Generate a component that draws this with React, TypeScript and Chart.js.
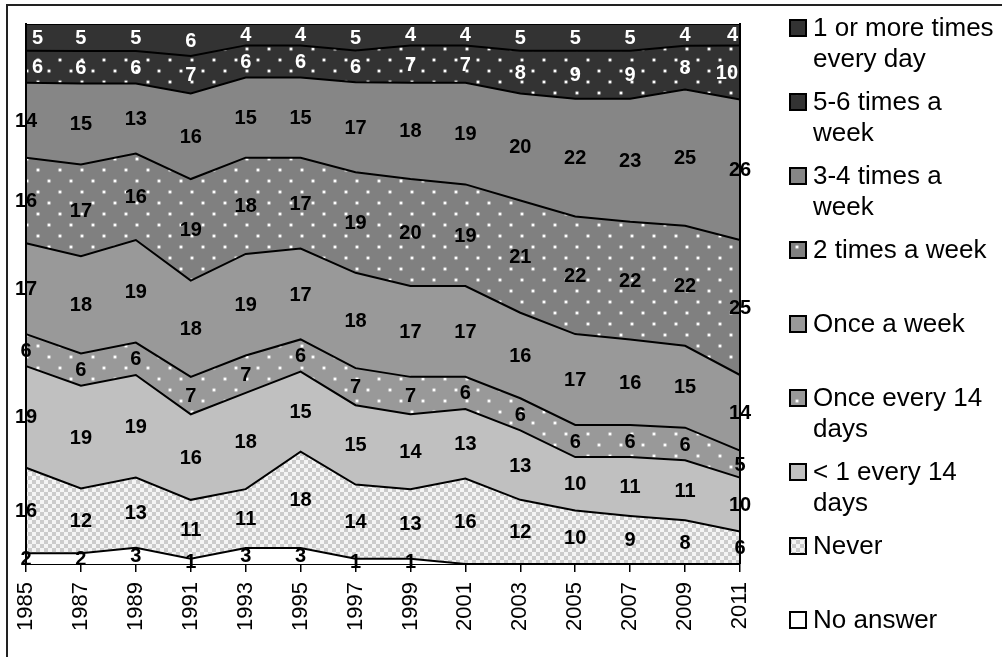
import React, { useEffect, useRef } from "react";
import { Chart, registerables } from "chart.js";

Chart.register(...registerables);

// Survey years
const years = ["1985", "1987", "1989", "1991", "1993", "1995", "1997", "1999", "2001", "2003", "2005", "2007", "2009", "2011"];

// Answer categories, bottom of the stack first
const seriesNames = [
  "No answer",
  "Never",
  "< 1 every 14 days",
  "Once every 14 days",
  "Once a week",
  "2 times a week",
  "3-4 times a week",
  "5-6 times a week",
  "1 or more times every day",
];

// Shares in percent per year
const noAnswer = [2, 2, 3, 1, 3, 3, 1, 1, 0, 0, 0, 0, 0, 0];
const never = [16, 12, 13, 11, 11, 18, 14, 13, 16, 12, 10, 9, 8, 6];
const lessThanBiweekly = [19, 19, 19, 16, 18, 15, 15, 14, 13, 13, 10, 11, 11, 10];
const biweekly = [6, 6, 6, 7, 7, 6, 7, 7, 6, 6, 6, 6, 6, 5];
const weekly = [17, 18, 19, 18, 19, 17, 18, 17, 17, 16, 17, 16, 15, 14];
const twiceWeekly = [16, 17, 16, 19, 18, 17, 19, 20, 19, 21, 22, 22, 22, 25];
const threeFourWeekly = [14, 15, 13, 16, 15, 15, 17, 18, 19, 20, 22, 23, 25, 26];
const fiveSixWeekly = [6, 6, 6, 7, 6, 6, 6, 7, 7, 8, 9, 9, 8, 10];
const daily = [5, 5, 5, 6, 4, 4, 5, 4, 4, 5, 5, 5, 4, 4];

const seriesValues = [noAnswer, never, lessThanBiweekly, biweekly, weekly, twiceWeekly, threeFourWeekly, fiveSixWeekly, daily];

const FONT = '"Liberation Sans", Arial, Helvetica, sans-serif';

// Totals per year, so every column fills 100 %
const totals = years.map((_, j) => seriesValues.reduce((s, arr) => s + arr[j], 0));

type Fill = { kind: "solid"; color: string } | { kind: "dots"; color: string } | { kind: "checker"; a: string; b: string };

const fills: Fill[] = [
  { kind: "solid", color: "#ffffff" },
  { kind: "checker", a: "#f4f4f4", b: "#cbcbcb" },
  { kind: "solid", color: "#c0c0c0" },
  { kind: "dots", color: "#999999" },
  { kind: "solid", color: "#999999" },
  { kind: "dots", color: "#808080" },
  { kind: "solid", color: "#868686" },
  { kind: "dots", color: "#333333" },
  { kind: "solid", color: "#333333" },
];

const labelColors = ["#000", "#000", "#000", "#000", "#000", "#000", "#000", "#fff", "#fff"];

function makeFill(ctx: CanvasRenderingContext2D, f: Fill): string | CanvasPattern {
  if (f.kind === "solid") return f.color;
  const tile = document.createElement("canvas");
  if (f.kind === "dots") {
    tile.width = 22;
    tile.height = 22;
    const g = tile.getContext("2d")!;
    g.fillStyle = f.color;
    g.fillRect(0, 0, 22, 22);
    for (const [x, y] of [[5, 5], [16, 16]]) {
      g.fillStyle = "rgba(255,255,255,0.35)";
      g.beginPath();
      g.arc(x, y, 2.2, 0, Math.PI * 2);
      g.fill();
      g.fillStyle = "#ffffff";
      g.beginPath();
      g.arc(x, y, 1.3, 0, Math.PI * 2);
      g.fill();
    }
  } else {
    tile.width = 8;
    tile.height = 8;
    const g = tile.getContext("2d")!;
    g.fillStyle = f.a;
    g.fillRect(0, 0, 8, 8);
    g.fillStyle = f.b;
    g.fillRect(0, 0, 4, 4);
    g.fillRect(4, 4, 4, 4);
  }
  return ctx.createPattern(tile, "repeat")!;
}

function wrapText(ctx: CanvasRenderingContext2D, text: string, maxWidth: number): string[] {
  const words = text.split(" ");
  const lines: string[] = [];
  let cur = "";
  for (const w of words) {
    const test = cur ? cur + " " + w : w;
    if (cur && ctx.measureText(test).width > maxWidth) {
      lines.push(cur);
      cur = w;
    } else {
      cur = test;
    }
  }
  if (cur) lines.push(cur);
  return lines;
}

// White page and the outer frame
const framePlugin = {
  id: "frame",
  beforeDraw(chart: any) {
    const ctx = chart.ctx as CanvasRenderingContext2D;
    ctx.save();
    ctx.fillStyle = "#ffffff";
    ctx.fillRect(0, 0, chart.width, chart.height);
    ctx.strokeStyle = "#222";
    ctx.lineWidth = 2;
    ctx.beginPath();
    ctx.moveTo(7, chart.height);
    ctx.lineTo(7, 5);
    ctx.lineTo(chart.width, 5);
    ctx.stroke();
    ctx.restore();
  },
};

// Side edges of the plot and the value labels in the middle of each band
const valueLabelPlugin = {
  id: "valueLabels",
  afterDatasetsDraw(chart: any) {
    const ctx = chart.ctx as CanvasRenderingContext2D;
    const area = chart.chartArea;
    ctx.save();
    ctx.strokeStyle = "#000";
    ctx.lineWidth = 2;
    ctx.beginPath();
    ctx.moveTo(area.left, area.top - 1);
    ctx.lineTo(area.left, area.bottom);
    ctx.moveTo(area.right, area.top - 1);
    ctx.lineTo(area.right, area.bottom);
    ctx.stroke();

    ctx.font = `bold 20px ${FONT}`;
    ctx.textAlign = "center";
    ctx.textBaseline = "middle";
    const zero = chart.scales.y.getPixelForValue(0);
    const last = years.length - 1;
    seriesValues.forEach((vals, i) => {
      const meta = chart.getDatasetMeta(i);
      const below = i > 0 ? chart.getDatasetMeta(i - 1) : null;
      const light = labelColors[i] === "#fff";
      vals.forEach((v, j) => {
        if (!v) return;
        const text = String(v);
        const top = meta.data[j].y;
        const bottom = below ? below.data[j].y : zero;
        let x = meta.data[j].x;
        // white labels stay inside the dark bands at the edges
        if (light) {
          const w = ctx.measureText(text).width;
          if (j === 0) x = area.left + 6 + w / 2;
          else if (j === last) x = area.right - 2 - w / 2;
        }
        ctx.fillStyle = labelColors[i];
        ctx.fillText(text, x, (top + bottom) / 2 + 1);
      });
    });
    ctx.restore();
  },
};

// Legend on the right, top series first, long names wrapped
const sideLegendPlugin = {
  id: "sideLegend",
  afterDraw(chart: any) {
    const ctx = chart.ctx as CanvasRenderingContext2D;
    ctx.save();
    ctx.font = `26px ${FONT}`;
    ctx.textAlign = "left";
    ctx.textBaseline = "middle";
    const n = seriesNames.length;
    for (let k = 0; k < n; k++) {
      const i = n - 1 - k;
      const cy = 28 + 74 * k;
      const ds = chart.data.datasets[i];
      ctx.fillStyle = ds.backgroundColor;
      ctx.fillRect(790, cy - 8, 16, 16);
      ctx.strokeStyle = "#000";
      ctx.lineWidth = 2;
      ctx.strokeRect(790, cy - 8, 16, 16);
      ctx.fillStyle = "#000";
      const lines = wrapText(ctx, seriesNames[i], 186);
      lines.forEach((line, m) => ctx.fillText(line, 813, cy + 1 + 31 * m));
    }
    ctx.restore();
  },
};

export default function App() {
  const canvasRef = useRef<HTMLCanvasElement | null>(null);

  useEffect(() => {
    const canvas = canvasRef.current;
    if (!canvas) return;
    const ctx = canvas.getContext("2d")!;

    const datasets = seriesValues.map((vals, i) => ({
      label: seriesNames[i],
      data: vals.map((v, j) => (v / totals[j]) * 100),
      backgroundColor: makeFill(ctx, fills[i]) as any,
      borderColor: "#000",
      borderWidth: 2,
      fill: i === 0 ? "origin" : "-1",
      pointRadius: 0,
      tension: 0,
    }));

    const chart = new Chart(canvas, {
      type: "line",
      data: { labels: years, datasets },
      options: {
        responsive: false,
        animation: false,
        layout: { padding: { left: 26, right: 262, top: 24, bottom: 0 } },
        plugins: {
          legend: { display: false },
          tooltip: { enabled: false },
        },
        scales: {
          x: {
            offset: false,
            grid: {
              display: true,
              drawOnChartArea: false,
              drawTicks: true,
              tickLength: 8,
              color: "#000",
              lineWidth: 1.5,
            },
            border: { display: true, color: "#000", width: 2 },
            ticks: {
              autoSkip: false,
              minRotation: 90,
              maxRotation: 90,
              padding: 10,
              color: "#000",
              font: { size: 22, family: FONT },
            },
            afterFit: (scale: any) => {
              scale.height = 93;
            },
          },
          y: {
            display: false,
            stacked: true,
            min: 0,
            max: 100,
          },
        },
      },
      plugins: [framePlugin, valueLabelPlugin, sideLegendPlugin],
    } as any);

    return () => chart.destroy();
  }, []);

  return (
    <div style={{ position: "fixed", left: 0, top: 0, width: 1002, height: 657, background: "#fff" }}>
      <canvas ref={canvasRef} width={1002} height={657} style={{ display: "block", width: 1002, height: 657 }} />
    </div>
  );
}
